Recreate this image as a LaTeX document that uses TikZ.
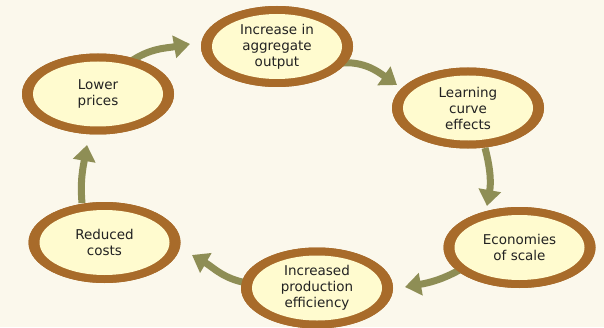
\documentclass[tikz,border=0pt]{standalone}
\usepackage{fontspec}
\setmainfont{DejaVu Sans}
\usetikzlibrary{shapes.geometric,arrows.meta,calc}
\definecolor{bgc}{HTML}{FBF8EC}
\definecolor{ringc}{HTML}{A86B2A}
\definecolor{fillc}{HTML}{FFFBCF}
\definecolor{arrc}{HTML}{8E8E55}
\definecolor{txtc}{HTML}{222222}
\begin{document}
\begin{tikzpicture}[x=1pt,y=1pt,
  ring/.style={ellipse,fill=ringc,minimum width=152pt,minimum height=81pt,inner sep=0pt},
  core/.style={ellipse,fill=fillc,minimum width=130pt,minimum height=65pt,inner sep=0pt,
     text=txtc,align=center,font=\fontsize{13.5}{16}\selectfont},
  arr/.style={draw=arrc,line width=7pt,-{Triangle[width=22pt,length=16pt]}}]
\useasboundingbox (0,0) rectangle (604,327);
\fill[bgc] (0,0) rectangle (604,327);
% rings
\node[ring] (lp) at (98,233) {};
\node[ring] (inc) at (277,280.5) {};
\node[ring] (lce) at (468,219) {};
\node[ring] (eco) at (519.5,79.5) {};
\node[ring] (ipe) at (317,39) {};
\node[ring] (rc) at (104.5,84.5) {};
% arrows (drawn before inner fills so they start under the ring)
\draw[arr] ($(lp)+(32,32)$) to[out=35,in=190] ($(inc)+(-87,2.5)$);
\draw[arr] ($(inc)+(63,-16.5)$) to[out=5,in=145] ($(lce)+(-71,23)$);
\draw[arr] ($(lce)+(17,-40)$) to[out=-75,in=80] ($(eco)+(-32.5,41.5)$);
\draw[arr] ($(eco)+(-56.5,-20.5)$) to[out=210,in=10] ($(ipe)+(88,1)$);
\draw[arr] ($(ipe)+(-70,5)$) to[out=170,in=-30] ($(rc)+(87.5,-12.5)$);
\draw[arr] ($(rc)+(-22.5,39.5)$) to[out=95,in=-100] ($(lp)+(-11,-51)$);
% redraw rings on top of arrow starts
\node[ring] at (lp) {};
\node[ring] at (inc) {};
\node[ring] at (lce) {};
\node[ring] at (eco) {};
\node[ring] at (ipe) {};
\node[ring] at (rc) {};
% inner fills with text
\node[core] (lpi) at (lp) {Lower\\prices};
\node[core] (inci) at (inc) {Increase in\\aggregate\\output};
\node[core] (lcei) at (lce) {Learning\\curve\\effects};
\node[core] (ecoi) at (eco) {Economies\\of scale};
\node[core] (ipei) at (ipe) {Increased\\production\\efficiency};
\node[core] (rci) at (rc) {Reduced\\costs};
\end{tikzpicture}
\end{document}
